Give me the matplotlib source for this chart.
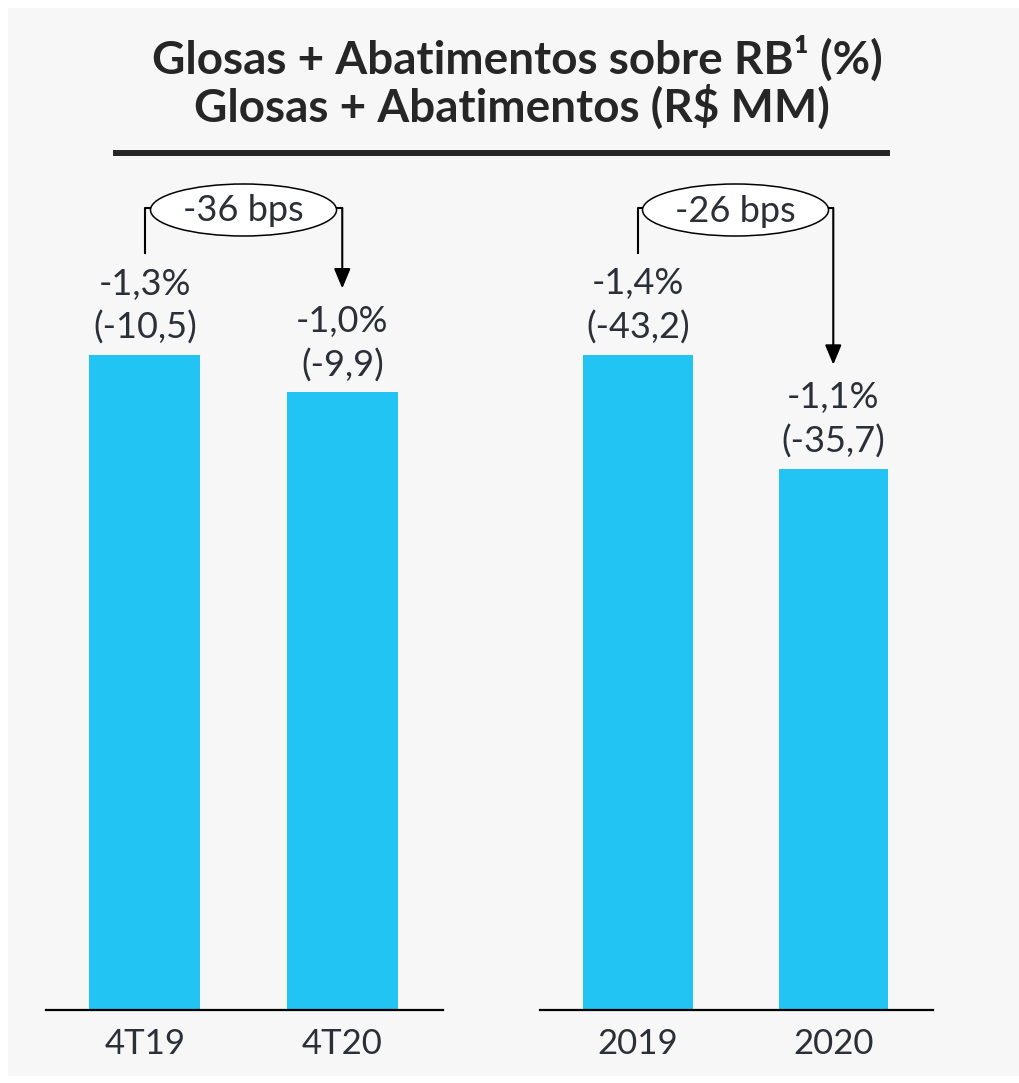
import matplotlib
matplotlib.use("Agg")
import matplotlib.pyplot as plt
from matplotlib.patches import Ellipse, Rectangle
from matplotlib.lines import Line2D

plt.rcParams['font.family'] = ['Lato', 'DejaVu Sans']

# Data
quarters = ["4T19", "4T20"]
quarter_pct = [-1.3, -1.0]
quarter_rs = [-10.5, -9.9]
quarter_bps = -36

years = ["2019", "2020"]
year_pct = [-1.4, -1.1]
year_rs = [-43.2, -35.7]
year_bps = -26

title_lines = ["Glosas + Abatimentos sobre RB¹ (%)", "Glosas + Abatimentos (R$ MM)"]

BAR = "#21C4F3"
TXT = "#2B2F38"
W, H = 1020, 1083

fig = plt.figure(figsize=(W / 100, H / 100), dpi=100, facecolor="white")
fig.patches.append(Rectangle((8 / W, 7 / H), 1 - 8 / W, 1 - 15 / H, transform=fig.transFigure,
                             facecolor="#F7F7F7", edgecolor="none", zorder=-5))

# title + rule
fig.text(517 / W, 1 - 59 / H, title_lines[0], ha="center", va="center", fontsize=33,
         fontweight="bold", color="#262626")
fig.text(512 / W, 1 - 107 / H, title_lines[1], ha="center", va="center", fontsize=33,
         fontweight="bold", color="#262626")
fig.lines.append(Line2D([116 / W, 887 / W], [1 - 153 / H, 1 - 153 / H], transform=fig.transFigure,
                        color="#262626", lw=4.3))

base_px, top_px = 1010, 170
ax_h_px = base_px - top_px


def fmt(v, pct=False):
    s = f"{v:.1f}".replace(".", ",")
    return s + "%" if pct else f"({s})"


def panel(left_px, width_px, cats, pct, rs, bps):
    ax = fig.add_axes([left_px / W, 1 - base_px / H, width_px / W, ax_h_px / H])
    ax.set_facecolor("none")
    heights = [-v for v in rs]
    ytop = max(heights) * ax_h_px / 655
    dy = ytop / ax_h_px
    xs = list(range(len(cats)))
    ax.bar(xs, heights, width=0.56, color=BAR, zorder=2)
    ax.set_xlim(-0.5, 1.51)
    ax.set_ylim(0, ytop)
    dx = 2.01 / width_px
    for s in ["left", "right", "top"]:
        ax.spines[s].set_visible(False)
    ax.spines["bottom"].set_linewidth(1.6)
    ax.spines["bottom"].set_color("black")
    ax.set_yticks([])
    ax.set_xticks(xs, cats)
    ax.tick_params(axis="x", length=0, pad=13, labelsize=25, labelcolor=TXT)

    for x, h, p, r in zip(xs, heights, pct, rs):
        ax.annotate(fmt(r), (x, h), xytext=(0, 27), textcoords="offset pixels",
                    ha="center", va="center", fontsize=26, color=TXT)
        ax.annotate(fmt(p, pct=True), (x, h), xytext=(0, 71), textcoords="offset pixels",
                    ha="center", va="center", fontsize=26, color=TXT)

    # bracket with arrow
    y_br = (base_px - 208) * dy
    ax.plot([xs[0], xs[0], 0.5], [heights[0] + 102 * dy, y_br, y_br], color="black",
            lw=1.5, clip_on=False, zorder=3)
    ax.plot([0.5, xs[1]], [y_br, y_br], color="black", lw=1.5, clip_on=False, zorder=3)
    ax.annotate("", xy=(xs[1], heights[1] + 104 * dy), xytext=(xs[1], y_br),
                arrowprops=dict(arrowstyle="-|>,head_length=0.6,head_width=0.25",
                                mutation_scale=20, lw=1.5, color="black",
                                shrinkA=0, shrinkB=0), annotation_clip=False)
    ax.add_patch(Ellipse((0.5, (base_px - 210) * dy), 186 * dx, 52 * dy, facecolor="white",
                         edgecolor="black", lw=1.1, clip_on=False, zorder=4))
    ax.text(0.5, (base_px - 211) * dy, f"{bps} bps", ha="center", va="center",
            fontsize=26, color=TXT, zorder=5)
    return ax


panel(46, 397, quarters, quarter_pct, quarter_rs, quarter_bps)
panel(540, 393, years, year_pct, year_rs, year_bps)

fig.savefig("out.png", dpi=100, facecolor="white")
